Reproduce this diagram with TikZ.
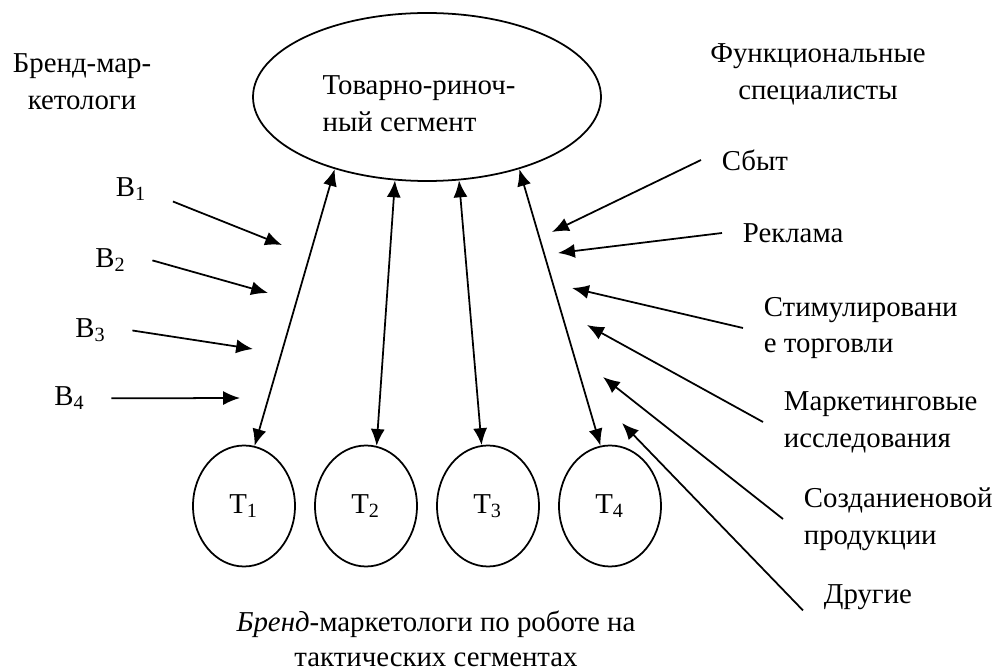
\documentclass[tikz,border=0pt]{standalone}
\usepackage{fontspec}
\setmainfont{Liberation Serif}
\usetikzlibrary{shapes.geometric,arrows.meta}

\begin{document}
\begin{tikzpicture}[>={Latex[length=4.8pt,width=4pt]}, line width=0.5pt,
  font=\fontsize{8.2}{10.5}\selectfont,
  seg/.style={draw, ellipse, minimum width=3.48cm, minimum height=1.68cm, inner sep=0pt},
  tseg/.style={draw, ellipse, minimum width=1.02cm, minimum height=1.21cm, inner sep=0pt},
  blbl/.style={anchor=base, inner xsep=0.25cm, inner ysep=0pt},
  lbl/.style={anchor=west, align=left, inner xsep=0.2cm, inner ysep=0pt}]

 \useasboundingbox (0,0) rectangle (9.98,-6.70);

 % headings
 \draw (0.82,-0.53) node[anchor=north, align=center, inner sep=0pt](brand){Бренд-мар-\\кетологи};
 \draw (8.18,-0.43) node[anchor=north, align=center, inner sep=0pt](func){Функциональные\\специалисты};

 % market segment
 \draw (4.27,-0.97) node[seg](seg){};
 \draw ([xshift=-0.08cm,yshift=-0.065cm]seg.center) node[align=left, inner sep=0pt](segtxt){Товарно-риноч-\\ный сегмент};

 % tactical segments
 \foreach \i/\x in {1/2.44,2/3.66,3/4.88,4/6.10} {
 \draw (\x,-5.06) node[tseg](t\i){Т\textsubscript{\i}};
 }
 \foreach \a/\b/\t in {218/80/1,249/80/2,291/96/3,322/99/4} {
 \draw [<->] (seg.\a) -- (t\t.\b);
 }

 % brand managers
 \draw (1.315,-1.97) node[blbl](b1){В\textsubscript{1}};
 \draw (1.11,-2.68) node[blbl](b2){В\textsubscript{2}};
 \draw (0.91,-3.38) node[blbl](b3){В\textsubscript{3}};
 \draw (0.70,-4.06) node[blbl](b4){В\textsubscript{4}};
 \coordinate (e1) at (2.82,-2.45);
 \coordinate (e2) at (2.68,-2.93);
 \coordinate (e3) at (2.53,-3.49);
 \coordinate (e4) at (2.40,-3.98);
 \draw [->] (b1.south east) -- (e1);
 \foreach \i in {2,3,4} { \draw [->] (b\i.east) -- (e\i); }

 % functional specialists
 \draw (7.01,-1.60) node[lbl](sbyt){Сбыт};
 \draw (7.22,-2.33) node[lbl](rekl){Реклама};
 \draw (7.43,-3.28) node[lbl](stim){Стимулировани\\е торговли};
 \draw (7.63,-4.22) node[lbl](mark){Маркетинговые\\исследования};
 \draw (7.83,-5.19) node[lbl](sozd){Созданиеновой\\продукции};
 \draw (8.03,-5.97) node[lbl](drug){Другие};
 \coordinate (r1) at (5.52,-2.32);
 \coordinate (r2) at (5.58,-2.53);
 \coordinate (r3) at (5.72,-2.88);
 \coordinate (r4) at (5.87,-3.25);
 \coordinate (r5) at (6.03,-3.77);
 \coordinate (r6) at (6.22,-4.23);
 \foreach \n/\p in {sbyt.west/r1,rekl.west/r2,stim.west/r3,mark.west/r4,sozd.west/r5,drug.south west/r6} {
 \draw [->] (\n) -- (\p);
 }

 % caption
 \draw (4.36,-6.10) node[anchor=north, align=center, inner sep=0pt, font=\fontsize{8.2}{9.9}\selectfont](capt){\textit{Бренд}-маркетологи по роботе на\\тактических сегментах};

\end{tikzpicture}
\end{document}
